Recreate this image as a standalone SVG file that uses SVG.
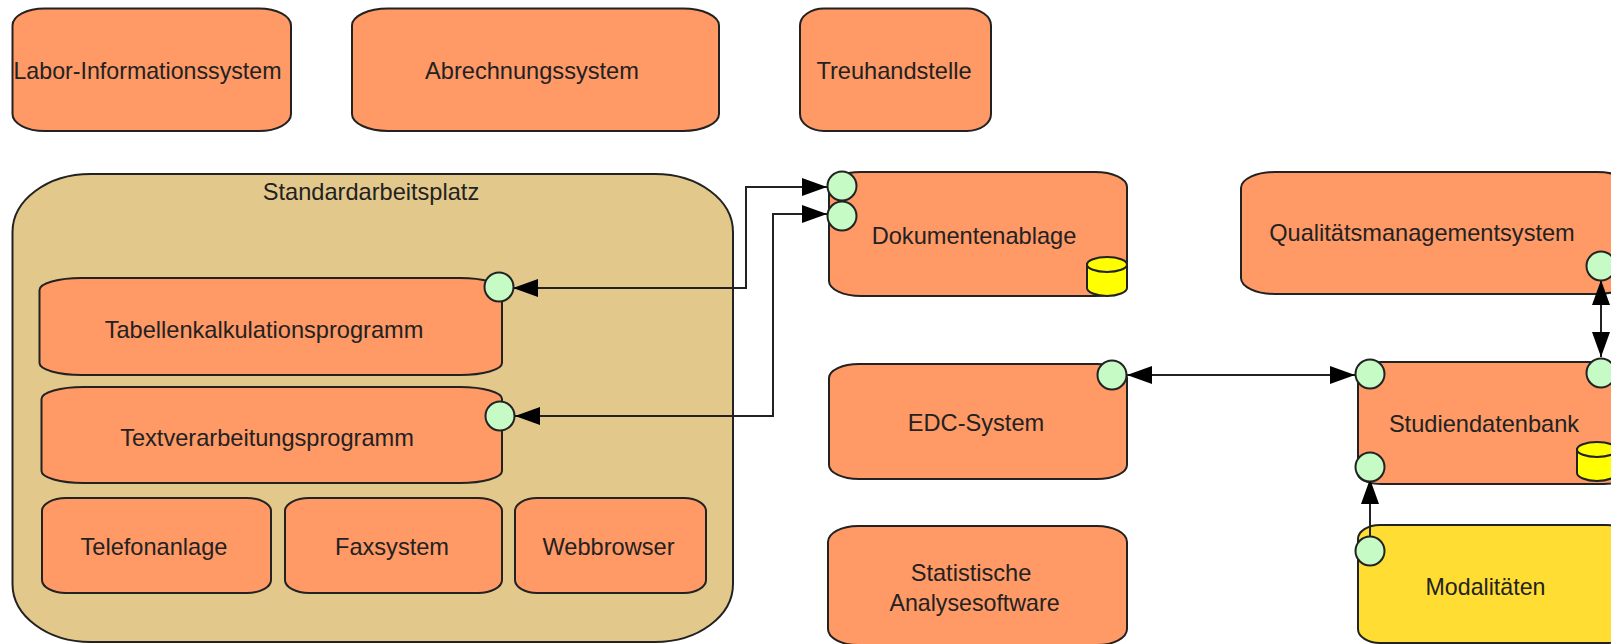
<svg xmlns="http://www.w3.org/2000/svg" width="1611" height="644" viewBox="0 0 1611 644">
<style>
.b{fill:#FF9966;stroke:#222;stroke-width:2}
.c{fill:#E3C88B;stroke:#222;stroke-width:2}
.y{fill:#FFDD33;stroke:#222;stroke-width:2}
.p{fill:#C6FBC6;stroke:#222;stroke-width:2}
.d{fill:#FFFF00;stroke:#222;stroke-width:2}
.l{fill:none;stroke:#222;stroke-width:2}
text{font-family:"Liberation Sans",Arial,sans-serif;font-size:23.600px;fill:#222;text-anchor:middle}
text.s{font-size:23.200px}
</style>
<defs>
<marker id="a" markerUnits="userSpaceOnUse" markerWidth="25" markerHeight="18" refX="25" refY="9" orient="auto-start-reverse"><path d="M0 0L25 9L0 18Z" fill="#000"/></marker>
<g id="cyl"><path class="d" d="M0 7V31C0 35 9 39 20 39S40 35 40 31V7Z"/><ellipse class="d" cx="20" cy="7.500" rx="20" ry="7.500"/></g>
</defs>
<g id="n-labor"><rect class="b" x="12.500" y="8.500" width="278.500" height="122.500" rx="32" ry="17"/><text class="s" x="147.500" y="79">Labor-Informationssystem</text></g>
<g id="n-abrechnung"><rect class="b" x="352" y="8.500" width="367" height="122.500" rx="36" ry="17"/><text x="532" y="79">Abrechnungssystem</text></g>
<g id="n-treuhand"><rect class="b" x="800" y="8.500" width="191" height="122.500" rx="24" ry="17"/><text x="894" y="79">Treuhandstelle</text></g>
<g id="n-standard"><rect class="c" x="12.500" y="174" width="720.500" height="468" rx="78" ry="58"/><text x="371" y="199.500">Standardarbeitsplatz</text></g>
<g id="n-tabellen"><rect class="b" x="39.500" y="278" width="462.500" height="97" rx="42" ry="12"/><text x="264" y="338">Tabellenkalkulationsprogramm</text></g>
<g id="n-text"><rect class="b" x="41.500" y="387" width="460.500" height="96" rx="42" ry="12"/><text x="267" y="446">Textverarbeitungsprogramm</text></g>
<g id="n-telefon"><rect class="b" x="42" y="498" width="229" height="95" rx="24" ry="13"/><text x="154" y="555">Telefonanlage</text></g>
<g id="n-fax"><rect class="b" x="285" y="498" width="217" height="95" rx="24" ry="13"/><text x="392" y="555">Faxsystem</text></g>
<g id="n-web"><rect class="b" x="515" y="498" width="191" height="95" rx="22" ry="13"/><text x="608.500" y="555">Webbrowser</text></g>
<g id="n-dok"><rect class="b" x="829" y="172" width="298" height="124" rx="32" ry="15"/><text x="974" y="244">Dokumentenablage</text><use href="#cyl" x="1087" y="257"/></g>
<g id="n-edc"><rect class="b" x="829" y="364" width="298" height="115" rx="30" ry="14"/><text x="976" y="431">EDC-System</text></g>
<g id="n-stat"><rect class="b" x="828" y="526" width="299" height="119" rx="30" ry="16"/><text x="971" y="580.500">Statistische</text><text class="s" x="974.500" y="610.500">Analysesoftware</text></g>
<g id="n-qual"><rect class="b" x="1241" y="172" width="390" height="122" rx="34" ry="16"/><text x="1422" y="241">Qualitätsmanagementsystem</text></g>
<g id="n-stud"><rect class="b" x="1358" y="362" width="270" height="122" rx="24" ry="10"/><text x="1484" y="432">Studiendatenbank</text><use href="#cyl" x="1577" y="442"/></g>
<g id="n-modal"><rect class="y" x="1358" y="525" width="270" height="118" rx="22" ry="14"/><text class="s" x="1485.500" y="595">Modalitäten</text></g>
<g id="connectors">
<path class="l" marker-start="url(#a)" marker-end="url(#a)" d="M513 288H746V187H827"/>
<path class="l" marker-start="url(#a)" marker-end="url(#a)" d="M515 416H773V214H827"/>
<path class="l" marker-start="url(#a)" marker-end="url(#a)" d="M1127 375H1355"/>
<path class="l" marker-start="url(#a)" marker-end="url(#a)" d="M1601 280V357"/>
<path class="l" marker-end="url(#a)" d="M1370 537V479"/>
</g>
<g id="ports">
<circle class="p" cx="499" cy="287" r="14.500"/>
<circle class="p" cx="500" cy="416" r="14.500"/>
<circle class="p" cx="842" cy="186" r="14.500"/>
<circle class="p" cx="842" cy="216" r="14.500"/>
<circle class="p" cx="1112" cy="375" r="14.500"/>
<circle class="p" cx="1601" cy="266" r="14.500"/>
<circle class="p" cx="1601" cy="373" r="14.500"/>
<circle class="p" cx="1370" cy="374" r="14.500"/>
<circle class="p" cx="1370" cy="467" r="14.500"/>
<circle class="p" cx="1370" cy="551" r="14.500"/>
</g>
</svg>
